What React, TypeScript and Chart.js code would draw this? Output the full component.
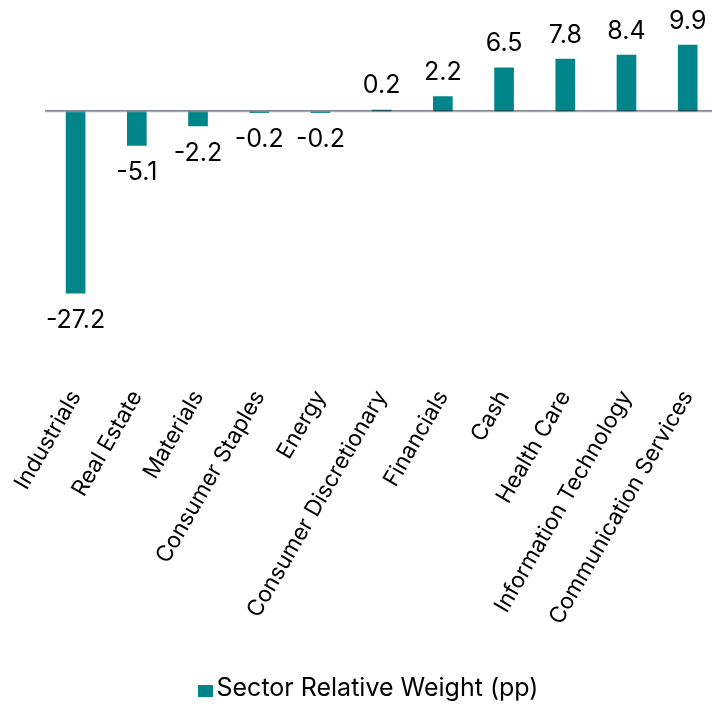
import { useEffect, useRef } from "react";
import { Chart, registerables } from "chart.js";

Chart.register(...registerables);

// Sector categories, in display order
const sectors = [
  "Industrials",
  "Real Estate",
  "Materials",
  "Consumer Staples",
  "Energy",
  "Consumer Discretionary",
  "Financials",
  "Cash",
  "Health Care",
  "Information Technology",
  "Communication Services",
];

// Relative weight versus benchmark, percentage points
const relativeWeights = [-27.2, -5.1, -2.2, -0.2, -0.2, 0.2, 2.2, 6.5, 7.8, 8.4, 9.9];

const seriesName = "Sector Relative Weight (pp)";

const TEAL = "#00868a";
const FONT = "Inter, 'Liberation Sans', Arial, sans-serif";
const CANVAS_W = 720;
const CANVAS_H = 709;

// Horizontal rule at the zero value, drawn over the bars
const zeroLinePlugin = {
  id: "zeroLine",
  afterDatasetsDraw(chart: any) {
    const { ctx, chartArea, scales } = chart;
    const y0 = scales.y.getPixelForValue(0);
    ctx.save();
    ctx.fillStyle = "#2b3442";
    ctx.fillRect(chartArea.left, y0 - 0.9, chart.width - chartArea.left, 1);
    ctx.fillStyle = "#a7aeb6";
    ctx.fillRect(chartArea.left, y0 + 0.1, chart.width - chartArea.left, 0.8);
    ctx.restore();
  },
};

// Value labels above positive bars and below negative bars
const valueLabelPlugin = {
  id: "valueLabels",
  afterDatasetsDraw(chart: any) {
    const { ctx } = chart;
    const meta = chart.getDatasetMeta(0);
    const data = chart.data.datasets[0].data as number[];
    ctx.save();
    ctx.font = `25px ${FONT}`;
    ctx.fillStyle = "#000";
    ctx.textAlign = "center";
    ctx.textBaseline = "alphabetic";
    meta.data.forEach((bar: any, i: number) => {
      const v = data[i];
      const label = v.toFixed(1);
      const y = v >= 0 ? bar.y - 16.5 : bar.y + 34.5;
      ctx.fillText(label, bar.x, y);
    });
    ctx.restore();
  },
};

export default function App() {
  const canvasRef = useRef<HTMLCanvasElement | null>(null);

  useEffect(() => {
    if (!canvasRef.current) return;
    const chart = new Chart(canvasRef.current, {
      type: "bar",
      data: {
        labels: sectors,
        datasets: [
          {
            label: seriesName,
            data: relativeWeights,
            backgroundColor: TEAL,
            borderWidth: 0,
            barThickness: 19,
          },
        ],
      },
      options: {
        responsive: false,
        animation: false,
        layout: { padding: { left: 45, right: 1.7, top: 11, bottom: 0 } },
        plugins: {
          legend: { display: false },
          tooltip: { enabled: false },
        },
        scales: {
          x: {
            grid: { display: false, drawTicks: false },
            border: { display: false },
            ticks: {
              color: "#000",
              font: { family: FONT, size: 22.5 },
              minRotation: 60,
              maxRotation: 60,
              autoSkip: false,
              padding: 7,
            },
            afterFit: (scale: any) => {
              scale.height = 330.2;
            },
          },
          y: {
            display: false,
            min: -40,
            max: 15,
          },
        },
      },
      plugins: [zeroLinePlugin, valueLabelPlugin],
    });
    return () => chart.destroy();
  }, []);

  return (
    <div
      style={{
        position: "fixed",
        left: 0,
        top: 0,
        width: 712,
        height: 709,
        overflow: "hidden",
        background: "#fff",
      }}
    >
      <canvas
        ref={canvasRef}
        width={CANVAS_W}
        height={CANVAS_H}
        style={{ position: "absolute", left: 0, top: 0 }}
      />
      <div
        style={{
          position: "absolute",
          left: 198,
          top: 685,
          width: 15,
          height: 12,
          background: TEAL,
        }}
      />
      <div
        style={{
          position: "absolute",
          left: 216.5,
          top: 675,
          fontFamily: FONT,
          fontSize: 25,
          lineHeight: "25px",
          color: "#000",
          whiteSpace: "nowrap",
        }}
      >
        {seriesName}
      </div>
    </div>
  );
}
